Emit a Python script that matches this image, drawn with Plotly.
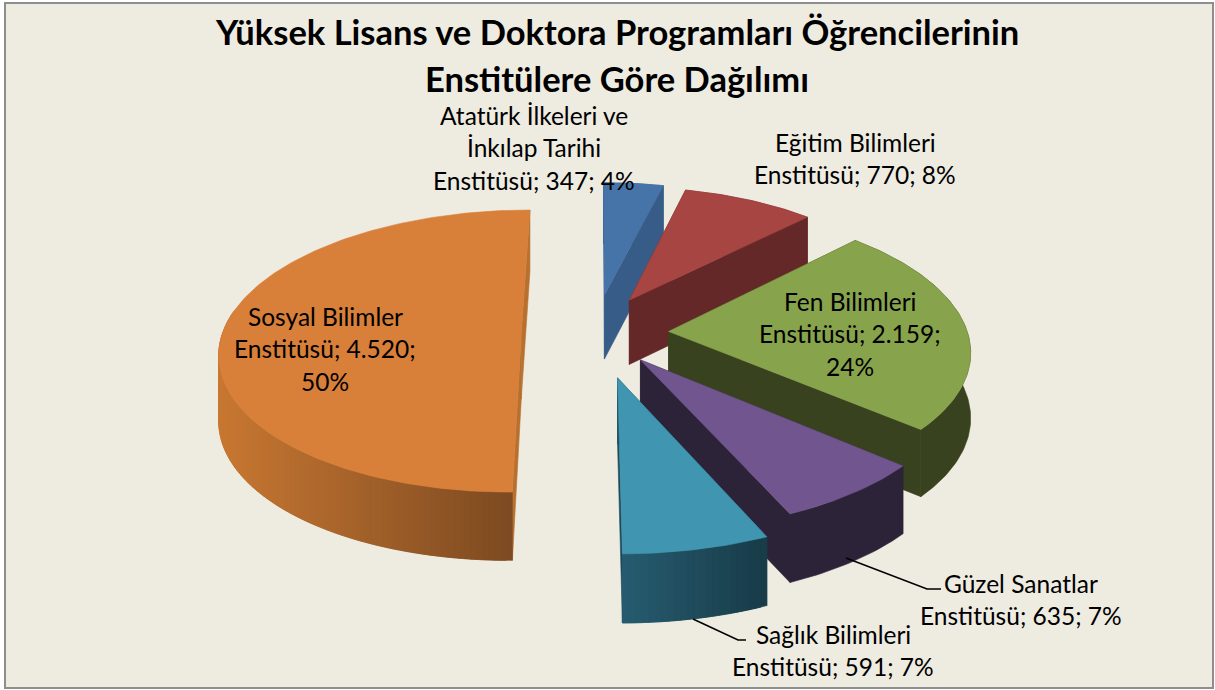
import math
import plotly.graph_objects as go

# ---- data ----
categories = ["Atatürk İlkeleri ve İnkılap Tarihi Enstitüsü", "Eğitim Bilimleri Enstitüsü",
              "Fen Bilimleri Enstitüsü", "Güzel Sanatlar Enstitüsü",
              "Sağlık Bilimleri Enstitüsü", "Sosyal Bilimler Enstitüsü"]
values = [347, 770, 2159, 635, 591, 4520]
top_colors = ["#4673A8", "#A74543", "#87A34C", "#71558F", "#4095B0", "#D87F3A"]
wall_left = ["#375C88", "#652829", "#39421E", "#2D2338", "#265C70", "#C87832"]
wall_right = ["#375C88", "#652829", "#39421E", "#2D2338", "#183B47", "#784720"]
edge_colors = ["#375C88", "#652829", "#39421E", "#2D2338", "#1C4B5C", "#B8702F"]

title_lines = ["Yüksek Lisans ve Doktora Programları Öğrencilerinin", "Enstitülere Göre Dağılımı"]
label_lines = [
    ["Atatürk İlkeleri ve", "İnkılap Tarihi", "Enstitüsü; 347; 4%"],
    ["Eğitim Bilimleri", "Enstitüsü; 770; 8%"],
    ["Fen Bilimleri", "Enstitüsü; 2.159;", "24%"],
    ["Güzel Sanatlar", "Enstitüsü; 635; 7%"],
    ["Sağlık Bilimleri", "Enstitüsü; 591; 7%"],
    ["Sosyal Bilimler", "Enstitüsü; 4.520;", "50%"],
]
label_xy = [(534, 115), (855, 142), (850, 301), (1021, 583), (833, 634), (325, 316)]

# ---- projection of the tilted pie ----
CX, CY, A, B, K, DEPTH, EXPLODE = 595, 334, 299, 139, 0.12, 65, 0.27
# per-slice perspective correction (shift x, shift y, scale about the apex)
nudges = [(0, -3, 0.96), (-4, -2, 0.96), (-7, -1, 1.0), (-4, -5, 1.02), (5, 6, 1.04), (7, 0, 1.0)]
total = sum(values)


def mix(c1, c2, t):
    a = [int(c1[i:i + 2], 16) for i in (1, 3, 5)]
    b = [int(c2[i:i + 2], 16) for i in (1, 3, 5)]
    return "#%02x%02x%02x" % tuple(round(p + (q - p) * t) for p, q in zip(a, b))


def poly(fig, pts, color, name):
    fig.add_trace(go.Scatter(
        x=[p[0] for p in pts] + [pts[0][0]], y=[p[1] for p in pts] + [pts[0][1]],
        mode="lines", fill="toself", fillcolor=color,
        line=dict(color=color, width=0.6), name=name,
        hoverinfo="skip", showlegend=False))


fig = go.Figure()
start = 0.0
for i, val in enumerate(values):
    sweep = val / total * 2 * math.pi
    end = start + sweep
    mid = (start + end) / 2
    ox, oy = EXPLODE * math.sin(mid), EXPLODE * math.cos(mid)
    dx, dy, sc = nudges[i]

    def base(u, v):
        s = 1 / (1 + K * v)
        return CX + A * u * s, CY - B * v * s

    ax, ay = base(ox, oy)

    def proj(u, v, z=0.0):
        px, py = base(u, v)
        return (ax + (px - ax) * sc + dx,
                ay + (py - ay) * sc + dy + z * DEPTH * (1 - 0.05 * v))

    rim = lambda t: (ox + math.sin(t), oy + math.cos(t))
    n = max(8, int(sweep / (2 * math.pi) * 360))
    ts = [start + sweep * j / n for j in range(n + 1)]
    # radial walls
    for t in (start, end):
        ru, rv = rim(t)
        poly(fig, [proj(ox, oy), proj(ru, rv), proj(ru, rv, 1), proj(ox, oy, 1)], edge_colors[i], categories[i])
    # outer wall: one face, or shaded strips that overlap so no seams show
    if wall_left[i] == wall_right[i]:
        poly(fig, [proj(*rim(t)) for t in ts] + [proj(*rim(t), 1) for t in reversed(ts)],
             wall_left[i], categories[i])
    else:
        x_all = [proj(*rim(t))[0] for t in ts]
        x0, x1 = min(x_all), max(x_all)
        for j in range(n):
            if math.cos(ts[j]) > 0.15:      # back of the rim faces away from the viewer
                continue
            p, q = rim(ts[j]), rim(ts[min(j + 2, n)])
            xm = (proj(*rim(ts[j]))[0] + proj(*rim(ts[j + 1]))[0]) / 2
            col = mix(wall_left[i], wall_right[i], (xm - x0) / max(x1 - x0, 1))
            poly(fig, [proj(*p), proj(*q), proj(*q, 1), proj(*p, 1)], col, categories[i])
    # top face
    poly(fig, [proj(ox, oy)] + [proj(*rim(t)) for t in ts], top_colors[i], categories[i])
    start = end

anns = []
for text, y, in zip(title_lines, (31, 78)):
    anns.append(dict(x=616.5, y=y, text=f"<b>{text}</b>", showarrow=False, xanchor="center", yanchor="middle",
                     font=dict(family="Lato", size=34.5, color="#000000")))
for lines, (lx, ly) in zip(label_lines, label_xy):
    for k, text in enumerate(lines):
        anns.append(dict(x=lx, y=ly + k * 32.5, text=text, showarrow=False, xanchor="center", yanchor="middle",
                         font=dict(family="Lato", size=24.5, color="#000000")))

shapes = [
    dict(type="rect", x0=5, y0=3, x1=1213, y1=688, layer="below", fillcolor="#EEEBE0",
         line=dict(color="#8E8E8E", width=2)),
    dict(type="path", path="M 846 558 L 927 589 L 941 589", layer="above", line=dict(color="#000000", width=1.6)),
    dict(type="path", path="M 693 619 L 738 640 L 746 640", layer="above", line=dict(color="#000000", width=1.6)),
]

fig.update_layout(
    width=1215, height=690, margin=dict(l=0, r=0, t=0, b=0),
    paper_bgcolor="#FFFFFF", plot_bgcolor="rgba(0,0,0,0)", showlegend=False,
    xaxis=dict(range=[0, 1215], visible=False, fixedrange=True),
    yaxis=dict(range=[690, 0], visible=False, fixedrange=True),
    annotations=anns, shapes=shapes,
)
fig.write_html("out.html", post_script="document.body.style.margin='0';document.body.style.overflow='hidden';",
               config={"displayModeBar": False})
